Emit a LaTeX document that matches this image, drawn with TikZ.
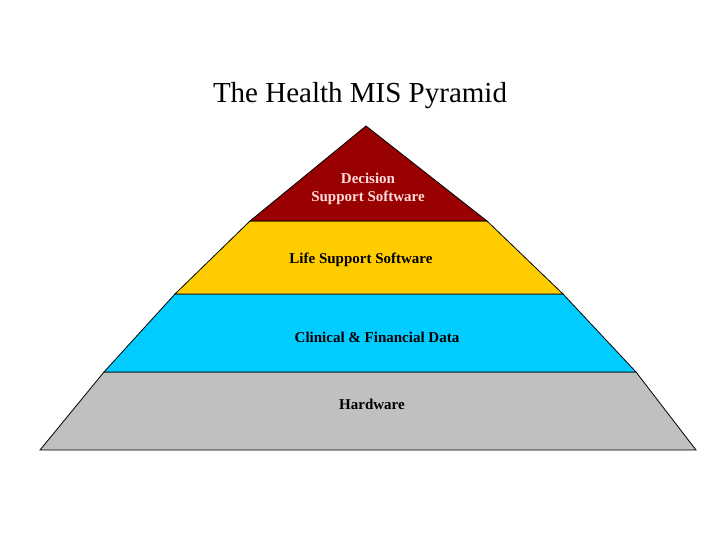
\documentclass[tikz,border=0pt]{standalone}
\usepackage{fontspec}
\setmainfont{Liberation Serif}
\begin{document}
\begin{tikzpicture}[x=1pt,y=-1pt,
  band/.style={draw=black,line width=0.8pt,line join=miter},
  lbl/.style={font=\bfseries\fontsize{15}{18}\selectfont,align=center,inner sep=0}]
\definecolor{dred}{RGB}{153,0,0}
\definecolor{gold}{RGB}{255,204,0}
\definecolor{cyanb}{RGB}{0,204,255}
\definecolor{grayb}{RGB}{192,192,192}
\definecolor{pinkt}{RGB}{255,220,220}
\useasboundingbox (0,0) rectangle (720,540);
\node[font=\fontsize{29}{34}\selectfont] (title) at (360,96) {The Health MIS Pyramid};
\path[band,fill=grayb] (104,372) -- (636,372) -- (696,450) -- (40,450) -- cycle;
\path[band,fill=cyanb] (175,294) -- (563,294) -- (636,372) -- (104,372) -- cycle;
\path[band,fill=gold] (250,221) -- (487,221) -- (563,294) -- (175,294) -- cycle;
\path[band,fill=dred] (366,126) -- (487,221) -- (250,221) -- cycle;
\node[lbl,text=pinkt] (dss) at (368,189) {Decision\\Support Software};
\node[lbl] (lss) at (361,260) {Life Support Software};
\node[lbl] (cfd) at (377,337) {Clinical \& Financial Data};
\node[lbl] (hw) at (372,404) {Hardware};
\end{tikzpicture}
\end{document}
